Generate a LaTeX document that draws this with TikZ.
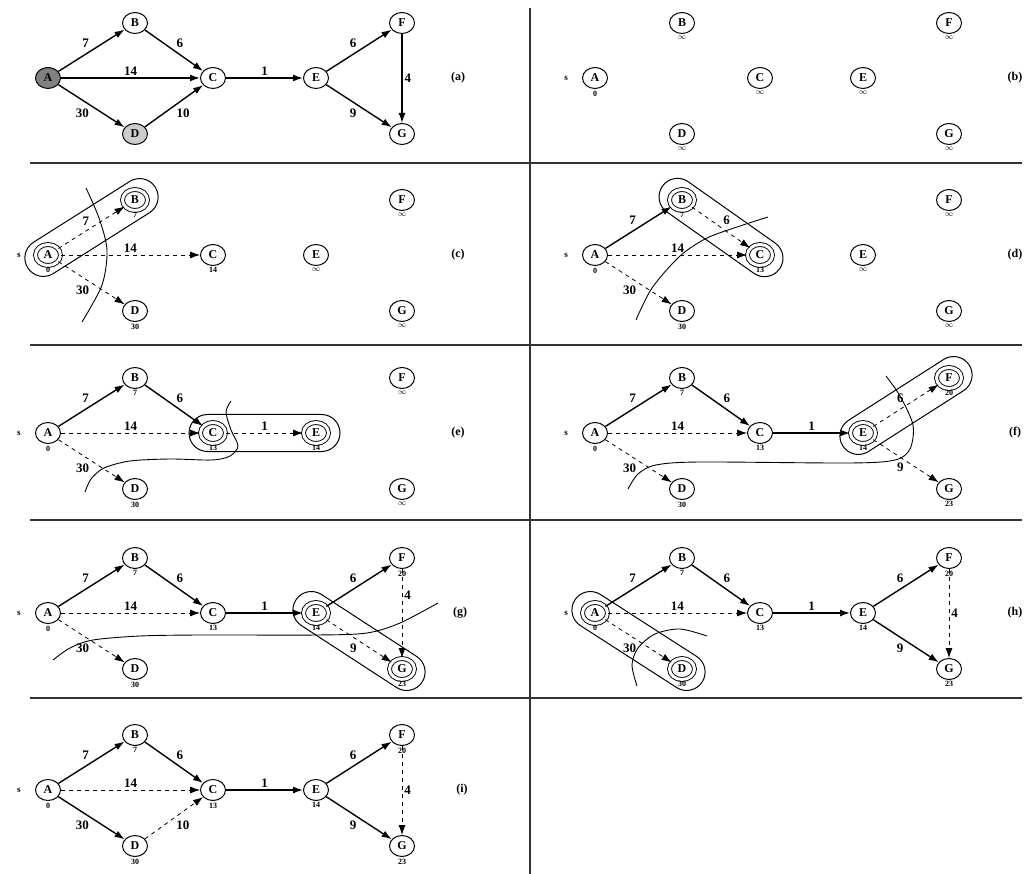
\documentclass[tikz,border=0pt]{standalone}
\usepackage{fontspec}
\setmainfont{Liberation Serif}
\usetikzlibrary{arrows.meta,calc,shapes.misc,shapes.geometric}
\newcommand\allnodes[7]{%
  \node[gn,stA,label={[vl]below:#1}] (A) at (0,0) {A};
  \node[gn,stB,label={[vl]below:#2}] (B) at (87,-55) {B};
  \node[gn,stC,label={[vl]below:#3}] (C) at (165,0) {C};
  \node[gn,stD,label={[vl]below:#4}] (D) at (87,56) {D};
  \node[gn,stE,label={[vl]below:#5}] (E) at (268,0) {E};
  \node[gn,stF,label={[vl]below:#6}] (F) at (354,-55) {F};
  \node[gn,stG,label={[vl]below:#7}] (G) at (354,56) {G};
  \node[sl] (s) at (-29,0) {s};}
\newcommand\capsule[2]{%
  \path let \p1=($(#2)-(#1)$), \n1={atan2(\y1,\x1)}, \n2={veclen(\x1,\y1)} in
    node[capsulebox, rotate=\n1, minimum width=\n2+48pt] (capsule) at ($(#1)!0.5!(#2)$) {};}
\newcommand\infy{$\infty$}
\begin{document}
\begin{tikzpicture}[x=1pt,y=-1pt,
  gn/.style={ellipse,draw,line width=1pt,minimum width=25pt,minimum height=21pt,inner sep=0pt,
     font=\bfseries\fontsize{12}{12}\selectfont},
  dbl/.style={double,double distance=3pt,line width=0.9pt,label distance=3.5pt},
  stA/.style={}, stB/.style={}, stC/.style={}, stD/.style={}, stE/.style={}, stF/.style={}, stG/.style={},
  label distance=1pt,
  vl/.style={font=\bfseries\fontsize{8}{8}\selectfont, inner sep=0.5pt},
  sl/.style={font=\bfseries\fontsize{9}{9}\selectfont, inner sep=0pt},
  pl/.style={font=\bfseries\fontsize{12}{12}\selectfont, inner sep=0pt},
  e/.style={-{Latex[length=10pt,width=7pt]}, line width=1.4pt},
  de/.style={-{Latex[length=10pt,width=7pt]}, line width=0.8pt, dash pattern=on 4pt off 4pt},
  wl/.style={font=\bfseries\fontsize{13}{13}\selectfont, inner sep=2pt},
  capsulebox/.style={rounded rectangle, draw, line width=1pt, minimum height=37pt, inner sep=0pt},
  cutline/.style={line width=0.9pt},
  divider/.style={line width=1.5pt, black!80}]
\useasboundingbox (0,0) rectangle (1031,874);
% frame rules
\coordinate (v1) at (530,8); \coordinate (v2) at (530,874);
\draw[divider] (v1) -- (v2);
\foreach \yy/\nm in {163/h1,345/h2,520/h3,698/h4}{
  \coordinate (\nm l) at (30,\yy); \coordinate (\nm r) at (1022,\yy);
  \draw[divider] (\nm l) -- (\nm r);}
% ---------- (a)
\begin{scope}[shift={(48,78)},name prefix=a-]
  \node[gn,fill=black!50] (A) at (0,0) {A};
  \node[gn] (B) at (87,-55) {B};
  \node[gn] (C) at (165,0) {C};
  \node[gn,fill=black!20] (D) at (87,56) {D};
  \node[gn] (E) at (268,0) {E};
  \node[gn] (F) at (354,-55) {F};
  \node[gn] (G) at (354,56) {G};
  \draw[e] (A) -- node[wl,auto] {7} (B);
  \draw[e] (B) -- node[wl,auto] {6} (C);
  \draw[e] (A) -- node[wl,auto] {14} (C);
  \draw[e] (A) -- node[wl,auto,swap] {30} (D);
  \draw[e] (D) -- node[wl,auto,swap] {10} (C);
  \draw[e] (C) -- node[wl,auto] {1} (E);
  \draw[e] (E) -- node[wl,auto] {6} (F);
  \draw[e] (E) -- node[wl,auto,swap] {9} (G);
  \draw[e] (F) -- node[wl,auto] {4} (G);
  \node[pl] (lab) at (410,0) {(a)};
\end{scope}
% ---------- (b)
\begin{scope}[shift={(595,78)},name prefix=b-]
  \allnodes{0}{\infy}{\infy}{\infy}{\infy}{\infy}{\infy}
  \node[pl] (lab) at (420,0) {(b)};
\end{scope}
% ---------- (c)
\begin{scope}[shift={(48,255)},name prefix=c-,stA/.style=dbl,stB/.style=dbl]
  \allnodes{0}{7}{14}{30}{\infy}{\infy}{\infy}
  \draw[de] (A) -- node[wl,auto] {7} (B);
  \draw[de] (A) -- node[wl,auto] {14} (C);
  \draw[de] (A) -- node[wl,auto,swap] {30} (D);
  \capsule{A}{B}
  \node[pl] (lab) at (410,0) {(c)};
\end{scope}
\draw[cutline] plot[smooth] coordinates {(86,188) (99,218) (107,250) (102,285) (82,322)};
% ---------- (d)
\begin{scope}[shift={(595,255)},name prefix=d-,stB/.style=dbl,stC/.style=dbl]
  \allnodes{0}{7}{13}{30}{\infy}{\infy}{\infy}
  \draw[e] (A) -- node[wl,auto] {7} (B);
  \draw[de] (B) -- node[wl,auto] {6} (C);
  \draw[de] (A) -- node[wl,auto] {14} (C);
  \draw[de] (A) -- node[wl,auto,swap] {30} (D);
  \capsule{B}{C}
  \node[pl] (lab) at (420,0) {(d)};
\end{scope}
\draw[cutline] plot[smooth] coordinates {(636,320) (652,288) (680,256) (707,238) (740,226) (768,217)};
% ---------- (e)
\begin{scope}[shift={(48,433)},name prefix=e-,stC/.style=dbl,stE/.style=dbl]
  \allnodes{0}{7}{13}{30}{14}{\infy}{\infy}
  \draw[e] (A) -- node[wl,auto] {7} (B);
  \draw[e] (B) -- node[wl,auto] {6} (C);
  \draw[de] (A) -- node[wl,auto] {14} (C);
  \draw[de] (A) -- node[wl,auto,swap] {30} (D);
  \draw[de] (C) -- node[wl,auto] {1} (E);
  \capsule{C}{E}
  \node[pl] (lab) at (410,0) {(e)};
\end{scope}
\draw[cutline] plot[smooth] coordinates {(231,401) (226,412) (231,430) (238,446) (230,456) (212,460) (170,459) (130,461) (104,468) (91,479) (85,492)};
% ---------- (f)
\begin{scope}[shift={(595,433)},name prefix=f-,stE/.style=dbl,stF/.style=dbl]
  \allnodes{0}{7}{13}{30}{14}{20}{23}
  \draw[e] (A) -- node[wl,auto] {7} (B);
  \draw[e] (B) -- node[wl,auto] {6} (C);
  \draw[de] (A) -- node[wl,auto] {14} (C);
  \draw[de] (A) -- node[wl,auto,swap] {30} (D);
  \draw[e] (C) -- node[wl,auto] {1} (E);
  \draw[de] (E) -- node[wl,auto] {6} (F);
  \draw[de] (E) -- node[wl,auto,swap] {9} (G);
  \capsule{E}{F}
  \node[pl] (lab) at (420,0) {(f)};
\end{scope}
\draw[cutline] plot[smooth] coordinates {(886,376) (900,396) (913,425) (910,449) (895,460) (850,463) (700,462) (656,465) (638,474) (628,489)};
% ---------- (g)
\begin{scope}[shift={(48,613)},name prefix=g-,stE/.style=dbl,stG/.style=dbl]
  \allnodes{0}{7}{13}{30}{14}{20}{23}
  \draw[e] (A) -- node[wl,auto] {7} (B);
  \draw[e] (B) -- node[wl,auto] {6} (C);
  \draw[de] (A) -- node[wl,auto] {14} (C);
  \draw[de] (A) -- node[wl,auto,swap] {30} (D);
  \draw[e] (C) -- node[wl,auto] {1} (E);
  \draw[e] (E) -- node[wl,auto] {6} (F);
  \draw[de] (E) -- node[wl,auto,swap] {9} (G);
  \draw[de] (F) -- node[wl,auto,pos=0.3] {4} (G);
  \capsule{E}{G}
  \node[pl] (lab) at (412,0) {(g)};
\end{scope}
\draw[cutline] plot[smooth] coordinates {(53,660) (70,648) (93,640) (140,636) (200,635) (317,635) (367,633) (400,623) (438,603)};
% ---------- (h)
\begin{scope}[shift={(595,613)},name prefix=h-,stA/.style=dbl,stD/.style=dbl]
  \allnodes{0}{7}{13}{30}{14}{20}{23}
  \draw[e] (A) -- node[wl,auto] {7} (B);
  \draw[e] (B) -- node[wl,auto] {6} (C);
  \draw[de] (A) -- node[wl,auto] {14} (C);
  \draw[de] (A) -- node[wl,auto,swap] {30} (D);
  \draw[e] (C) -- node[wl,auto] {1} (E);
  \draw[e] (E) -- node[wl,auto] {6} (F);
  \draw[e] (E) -- node[wl,auto,swap] {9} (G);
  \draw[de] (F) -- node[wl,auto] {4} (G);
  \capsule{A}{D}
  \node[pl] (lab) at (420,0) {(h)};
\end{scope}
\draw[cutline] plot[smooth] coordinates {(637,686) (632,665) (638,648) (655,634) (680,629) (707,636)};
% ---------- (i)
\begin{scope}[shift={(48,790)},name prefix=i-]
  \allnodes{0}{7}{13}{30}{14}{20}{23}
  \draw[e] (A) -- node[wl,auto] {7} (B);
  \draw[e] (B) -- node[wl,auto] {6} (C);
  \draw[de] (A) -- node[wl,auto] {14} (C);
  \draw[e] (A) -- node[wl,auto,swap] {30} (D);
  \draw[de] (D) -- node[wl,auto,swap] {10} (C);
  \draw[e] (C) -- node[wl,auto] {1} (E);
  \draw[e] (E) -- node[wl,auto] {6} (F);
  \draw[e] (E) -- node[wl,auto,swap] {9} (G);
  \draw[de] (F) -- node[wl,auto] {4} (G);
  \node[pl] (lab) at (414,0) {(i)};
\end{scope}
\end{tikzpicture}
\end{document}
